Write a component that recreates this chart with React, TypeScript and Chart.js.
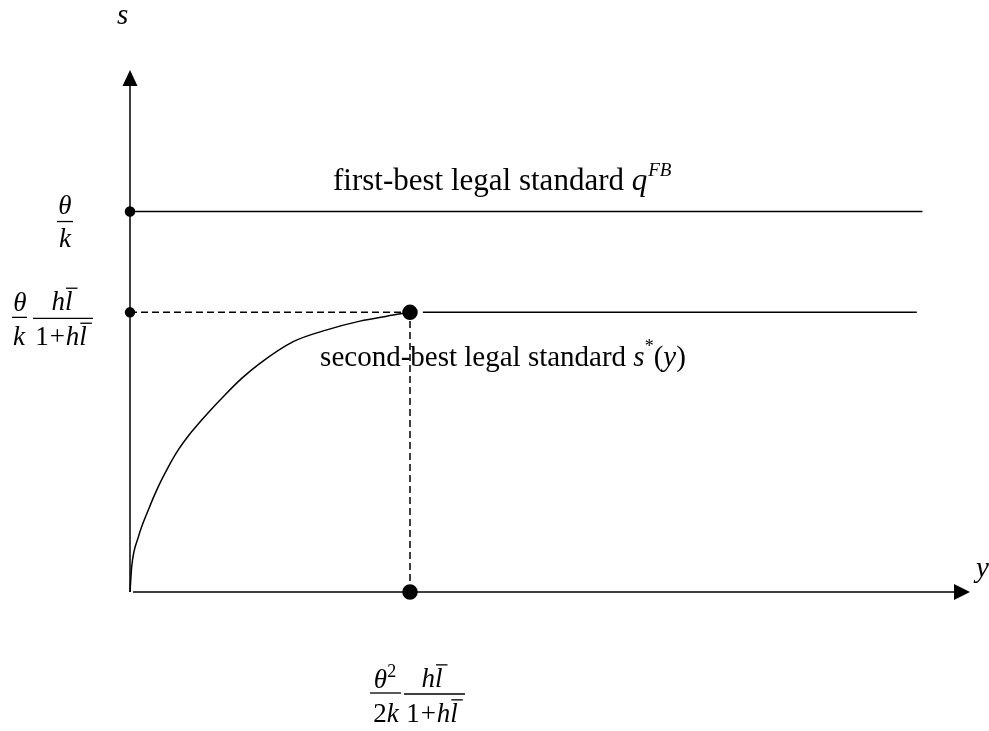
import React, { useEffect, useRef } from "react";
import { Chart, registerables } from "chart.js";

Chart.register(...registerables);

// Axis extents (model units)
const X_MAX = 3.0;
const S_MAX = 1.372;

// Key levels
const FIRST_BEST = 1.0; // θ/k
const SECOND_BEST = 0.735; // θ/k · hl̄/(1+hl̄)
const Y_STAR = 1.0; // θ²/2k · hl̄/(1+hl̄)

// Horizontal extents of the two standards
const firstBestX = [0, 2.83];
const secondBestFlatX = [1.046, 2.81];

// Second-best legal standard s*(y) on the rising part
const curveY = [0, 0.006, 0.03, 0.065, 0.101, 0.137, 0.173, 0.22, 0.28, 0.339, 0.4, 0.464, 0.583, 0.703, 0.821, 0.917, 1.0];
const curveS = [0, 0.066, 0.145, 0.215, 0.277, 0.329, 0.374, 0.421, 0.472, 0.518, 0.562, 0.601, 0.658, 0.689, 0.712, 0.725, 0.735];

const SERIF = "'Liberation Serif', 'Times New Roman', serif";
const INK = "#000";

type Run = { t: string; it?: boolean; bar?: boolean; sup?: boolean; padL?: number; padR?: number };

function fontFor(r: Run, fs: number) {
  const size = r.sup ? Math.round(fs * 0.65) : fs;
  return `${r.it ? "italic " : ""}${size}px ${SERIF}`;
}

function runsWidth(ctx: CanvasRenderingContext2D, runs: Run[], fs: number) {
  let w = 0;
  for (const r of runs) {
    ctx.font = fontFor(r, fs);
    w += (r.padL || 0) + ctx.measureText(r.t).width + (r.padR || 0);
  }
  return w;
}

function drawRuns(ctx: CanvasRenderingContext2D, runs: Run[], cx: number, baseline: number, fs: number) {
  const total = runsWidth(ctx, runs, fs);
  let x = cx - total / 2;
  ctx.textBaseline = "alphabetic";
  ctx.textAlign = "left";
  for (const r of runs) {
    ctx.font = fontFor(r, fs);
    x += r.padL || 0;
    const w = ctx.measureText(r.t).width;
    ctx.fillText(r.t, x, r.sup ? baseline - fs * 0.42 : baseline);
    if (r.bar) {
      ctx.beginPath();
      ctx.lineWidth = 1.3;
      ctx.moveTo(x + 1, baseline - fs * 0.82);
      ctx.lineTo(x + w + 5, baseline - fs * 0.82);
      ctx.stroke();
    }
    x += w + (r.padR || 0);
  }
}

function fracBar(ctx: CanvasRenderingContext2D, x1: number, x2: number, y: number) {
  ctx.beginPath();
  ctx.lineWidth = 1.3;
  ctx.moveTo(x1, y);
  ctx.lineTo(x2, y);
  ctx.stroke();
}

const hl: Run[] = [{ t: "h", it: true }, { t: "l", it: true, bar: true, padR: 4 }];
const onePlusHl: Run[] = [{ t: "1" }, { t: "+", padL: 1, padR: 1 }, { t: "h", it: true }, { t: "l", it: true, bar: true, padR: 4 }];

const figureAnnotations = {
  id: "figureAnnotations",
  beforeDatasetsDraw(chart: any) {
    const { ctx, scales } = chart;
    const xs = scales.x;
    const ys = scales.y;
    const ox = xs.getPixelForValue(0);
    const oy = ys.getPixelForValue(0);
    const xTip = xs.getPixelForValue(X_MAX);
    const yTip = ys.getPixelForValue(S_MAX);
    ctx.save();
    ctx.strokeStyle = INK;
    ctx.fillStyle = INK;
    ctx.lineWidth = 1.5;
    // vertical axis
    ctx.beginPath();
    ctx.moveTo(ox, oy);
    ctx.lineTo(ox, yTip + 14);
    ctx.stroke();
    ctx.beginPath();
    ctx.moveTo(ox, yTip);
    ctx.lineTo(ox - 7.5, yTip + 16);
    ctx.lineTo(ox + 7.5, yTip + 16);
    ctx.closePath();
    ctx.fill();
    // horizontal axis
    ctx.beginPath();
    ctx.moveTo(ox + 3, oy);
    ctx.lineTo(xTip - 14, oy);
    ctx.stroke();
    ctx.beginPath();
    ctx.moveTo(xTip, oy);
    ctx.lineTo(xTip - 16, oy - 8);
    ctx.lineTo(xTip - 16, oy + 8);
    ctx.closePath();
    ctx.fill();
    ctx.restore();
  },
  afterDatasetsDraw(chart: any) {
    const { ctx, scales } = chart;
    const xs = scales.x;
    const ys = scales.y;
    const ox = xs.getPixelForValue(0);
    const oy = ys.getPixelForValue(0);
    const xTip = xs.getPixelForValue(X_MAX);
    const yTip = ys.getPixelForValue(S_MAX);
    const yFB = ys.getPixelForValue(FIRST_BEST);
    const ySB = ys.getPixelForValue(SECOND_BEST);
    const xStar = xs.getPixelForValue(Y_STAR);
    const fs = 27;
    ctx.save();
    ctx.fillStyle = INK;
    ctx.strokeStyle = INK;
    ctx.textBaseline = "alphabetic";
    ctx.textAlign = "left";

    // axis names
    ctx.font = `italic 29px ${SERIF}`;
    ctx.fillText("s", ox - 13, yTip - 46);
    ctx.fillText("y", xTip + 6, oy - 15);

    // θ/k on the vertical axis
    drawRuns(ctx, [{ t: "θ", it: true }], ox - 65, yFB + 2, fs);
    fracBar(ctx, ox - 73, ox - 57, yFB + 10);
    drawRuns(ctx, [{ t: "k", it: true }], ox - 65, yFB + 35, fs);

    // θ/k · hl̄/(1+hl̄)
    drawRuns(ctx, [{ t: "θ", it: true }], ox - 110, ySB - 1, fs);
    fracBar(ctx, ox - 118, ox - 103, ySB + 5);
    drawRuns(ctx, [{ t: "k", it: true }], ox - 111, ySB + 33, fs);
    drawRuns(ctx, hl, ox - 66, ySB - 2, fs);
    fracBar(ctx, ox - 97, ox - 37, ySB + 6);
    drawRuns(ctx, onePlusHl, ox - 67, ySB + 33, fs);

    // θ²/2k · hl̄/(1+hl̄) under y*
    const by = oy + 101;
    drawRuns(ctx, [{ t: "θ", it: true }, { t: "2", sup: true }], xStar - 25, by - 5, fs);
    fracBar(ctx, xStar - 40, xStar - 9, by);
    drawRuns(ctx, [{ t: "2" }, { t: "k", it: true }], xStar - 24, by + 29, fs);
    drawRuns(ctx, hl, xStar + 24, by - 6, fs);
    fracBar(ctx, xStar - 6, xStar + 55, by + 1);
    drawRuns(ctx, onePlusHl, xStar + 24, by + 29, fs);

    // label of the first-best standard
    const big1 = 31;
    const t1 = "first-best legal standard ";
    const x1 = xs.getPixelForValue(0.725);
    ctx.font = `${big1}px ${SERIF}`;
    ctx.fillText(t1, x1, yFB - 22);
    let w = ctx.measureText(t1).width;
    ctx.font = `italic ${big1}px ${SERIF}`;
    ctx.fillText("q", x1 + w, yFB - 22);
    const wq = ctx.measureText("q").width;
    ctx.font = `italic 19px ${SERIF}`;
    ctx.fillText("FB", x1 + w + wq + 1, yFB - 36);

    // label of the second-best standard
    const big2 = 29;
    const t2 = "second-best legal standard ";
    const x2 = xs.getPixelForValue(0.679);
    ctx.font = `${big2}px ${SERIF}`;
    ctx.fillText(t2, x2, ySB + 54);
    w = ctx.measureText(t2).width;
    let cx = x2 + w;
    ctx.font = `italic ${big2}px ${SERIF}`;
    ctx.fillText("s", cx, ySB + 54);
    cx += ctx.measureText("s").width;
    ctx.font = `18px ${SERIF}`;
    ctx.fillText("*", cx, ySB + 40);
    cx += ctx.measureText("*").width;
    ctx.font = `${big2}px ${SERIF}`;
    ctx.fillText("(", cx, ySB + 54);
    cx += ctx.measureText("(").width;
    ctx.font = `italic ${big2}px ${SERIF}`;
    ctx.fillText("y", cx, ySB + 54);
    cx += ctx.measureText("y").width;
    ctx.font = `${big2}px ${SERIF}`;
    ctx.fillText(")", cx, ySB + 54);
    ctx.restore();
  },
};

export default function App() {
  const ref = useRef<HTMLCanvasElement | null>(null);

  useEffect(() => {
    if (!ref.current) return;
    const line = { borderColor: INK, backgroundColor: INK, borderWidth: 1.5, showLine: true, fill: false, clip: false as any };
    const chart = new Chart(ref.current, {
      type: "scatter",
      data: {
        datasets: [
          {
            ...line,
            label: "first-best legal standard",
            data: firstBestX.map((x) => ({ x, y: FIRST_BEST })),
            pointRadius: [4.5, 0],
          },
          {
            ...line,
            label: "guide s*",
            data: [{ x: 0, y: SECOND_BEST }, { x: Y_STAR, y: SECOND_BEST }],
            borderDash: [7, 4],
            pointRadius: [4.5, 0],
          },
          {
            ...line,
            label: "guide y*",
            data: [{ x: Y_STAR, y: 0 }, { x: Y_STAR, y: SECOND_BEST }],
            borderDash: [7, 4],
            pointRadius: 0,
          },
          {
            ...line,
            label: "second-best flat",
            data: secondBestFlatX.map((x) => ({ x, y: SECOND_BEST })),
            pointRadius: 0,
          },
          {
            ...line,
            label: "second-best legal standard",
            data: curveY.map((x, i) => ({ x, y: curveS[i] })),
            cubicInterpolationMode: "monotone",
            pointRadius: 0,
          },
          {
            ...line,
            showLine: false,
            label: "kink",
            data: [{ x: Y_STAR, y: SECOND_BEST }, { x: Y_STAR, y: 0 }],
            pointRadius: 7,
          },
        ],
      },
      options: {
        responsive: false,
        animation: false,
        events: [],
        layout: { padding: { left: 130, right: 19, top: 70, bottom: 139 } },
        plugins: { legend: { display: false }, tooltip: { enabled: false } },
        scales: {
          x: { type: "linear", min: 0, max: X_MAX, display: false },
          y: { type: "linear", min: 0, max: S_MAX, display: false },
        },
      },
      plugins: [figureAnnotations],
    });
    return () => chart.destroy();
  }, []);

  return (
    <div style={{ position: "absolute", left: 0, top: 0, width: 989, height: 731, background: "#fff" }}>
      <canvas ref={ref} width={989} height={731} style={{ display: "block" }} />
    </div>
  );
}
